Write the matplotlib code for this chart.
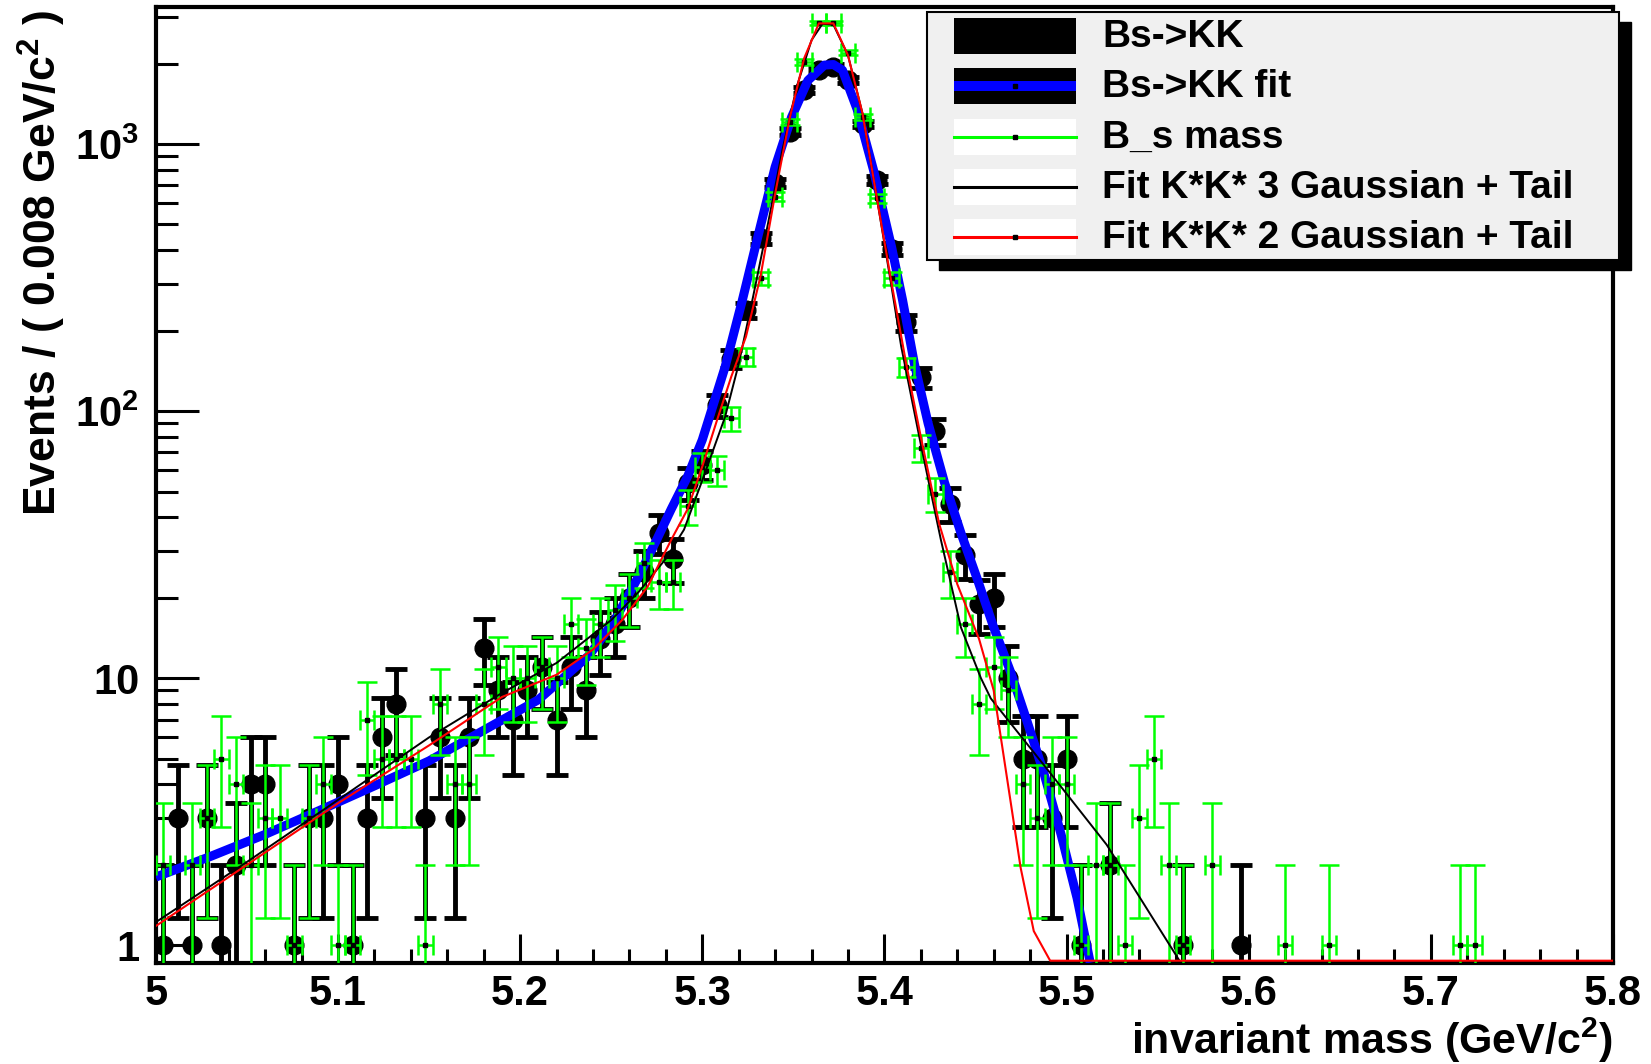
import numpy as np
import matplotlib
matplotlib.use("Agg")
import matplotlib.pyplot as plt
from matplotlib.patches import Rectangle

plt.rcParams['font.family'] = ['Liberation Sans', 'DejaVu Sans']
plt.rcParams['font.weight'] = 'bold'
plt.rcParams['mathtext.fontset'] = 'custom'
plt.rcParams['mathtext.rm'] = 'Liberation Sans:bold'
plt.rcParams['mathtext.it'] = 'Liberation Sans:bold:italic'
plt.rcParams['mathtext.bf'] = 'Liberation Sans:bold'

# 100 bins of 0.008 GeV/c^2 from 5.0 to 5.8
n_bins = 100
m_lo, m_hi = 5.0, 5.8
bin_w = (m_hi - m_lo) / n_bins

# Bs->KK events per bin (black)
kk_counts = [
    1, 3, 1, 3, 1, 2, 4, 4, 0, 1,
    3, 3, 4, 1, 3, 6, 8, 0, 3, 6,
    3, 6, 13, 9, 7, 9, 11, 7, 11, 9,
    14, 16, 20, 25, 35, 28, 54, 63, 105, 157,
    239, 443, 716, 1112, 1592, 1900, 1950, 1740, 1190, 733,
    405, 215, 134, 84, 45, 29, 19, 20, 10, 5,
    5, 3, 5, 1, 0, 2, 0, 0, 0, 0,
    1, 0, 0, 0, 1, 0, 0, 0, 0, 0,
    0, 0, 0, 0, 0, 0, 0, 0, 0, 0,
    0, 0, 0, 0, 0, 0, 0, 0, 0, 0,
]

# B_s mass events per bin (green)
bs_counts = [
    2, 0, 2, 3, 5, 4, 2, 3, 3, 1,
    3, 4, 1, 1, 7, 5, 5, 5, 1, 8,
    4, 4, 8, 11, 10, 10, 11, 10, 16, 13,
    16, 18, 20, 27, 23, 23, 44, 62, 60, 94,
    160, 314, 636, 1210, 2030, 2845, 2845, 2200, 1265, 627,
    314, 146, 73, 49, 25, 16, 8, 11, 9, 4,
    3, 4, 4, 1, 2, 2, 1, 3, 5, 2,
    1, 0, 2, 0, 0, 0, 0, 1, 0, 0,
    1, 0, 0, 0, 0, 0, 0, 0, 0, 1,
    1, 0, 0, 0, 0, 0, 0, 0, 0, 0,
]

# Bs->KK fit (thick blue)
kk_fit_x = [5.000, 5.030, 5.060, 5.090, 5.120, 5.150, 5.183, 5.210, 5.238, 5.252,
            5.265, 5.275, 5.283, 5.292, 5.300, 5.3125, 5.322, 5.331, 5.340, 5.349,
            5.358, 5.367, 5.372, 5.377, 5.385, 5.394, 5.404, 5.410, 5.4165, 5.424,
            5.433, 5.442, 5.451, 5.460, 5.4694, 5.478, 5.4876, 5.497, 5.5058, 5.513]
kk_fit_y = [1.80, 2.15, 2.60, 3.20, 3.95, 4.90, 6.55, 8.3, 12.2, 16.5,
            24.0, 33.0, 43.0, 57.0, 78.0, 146, 260, 464, 820, 1260,
            1730, 1975, 1985, 1890, 1350, 800, 410, 260, 150, 90,
            54, 35, 23.5, 15.5, 10.5, 7.0, 4.4, 2.6, 1.5, 0.86]

# Fit K*K* 3 Gaussian + Tail (thin black)
fit3_x = [5.000, 5.050, 5.100, 5.150, 5.190, 5.220, 5.250, 5.265, 5.280, 5.290,
          5.300, 5.3125, 5.320, 5.328, 5.336, 5.344, 5.352, 5.360, 5.366, 5.372,
          5.380, 5.388, 5.396, 5.404, 5.4092, 5.420, 5.431, 5.442, 5.453, 5.4584,
          5.4894, 5.522, 5.5620]
fit3_y = [1.22, 2.05, 3.5, 6.0, 8.8, 11.4, 16.5, 21, 28, 36,
          55, 95, 150, 270, 500, 950, 1650, 2450, 2820, 2800,
          2150, 1300, 620, 290, 175, 75, 33, 15.5, 10.0, 8.4,
          4.56, 2.38, 0.86]

# Fit K*K* 2 Gaussian + Tail (red)
fit2_x = [5.000, 5.050, 5.100, 5.150, 5.190, 5.220, 5.240, 5.256, 5.270, 5.283,
          5.292, 5.300, 5.308, 5.316, 5.324, 5.332, 5.340, 5.348, 5.356, 5.364,
          5.372, 5.380, 5.388, 5.396, 5.404, 5.412, 5.420, 5.430, 5.440, 5.452,
          5.460, 5.4748, 5.482, 5.491, 5.500, 5.800]
fit2_y = [1.18, 2.0, 3.4, 5.6, 8.5, 10.3, 12.8, 16.5, 22, 33,
          43, 62, 92, 135, 190, 320, 650, 1250, 2100, 2830,
          2830, 2150, 1300, 620, 300, 150, 80, 38, 22.5, 14.0,
          9.0, 1.95, 1.13, 0.86, 0.5, 0.5]

y_lo, y_hi = 0.858, 3260

W, H = 1651, 1064
fig = plt.figure(figsize=(W / 100, H / 100), dpi=100)
ax = fig.add_axes([155.8 / W, 1 - 963 / H, (1613 - 155.8) / W, (963 - 7) / H])

centers = m_lo + bin_w * (np.arange(n_bins) + 0.5)


def draw_hist(counts, color, lw, cap, marker, ms, mcolor, z, xbar):
    n = np.array(counts, dtype=float)
    keep = n > 0
    x = centers[keep]
    n = n[keep]
    err = np.sqrt(n)
    lo = n - np.maximum(n - err, 1e-3)
    ax.errorbar(x, n, yerr=[lo, err], xerr=(bin_w / 2 if xbar else None),
                fmt='none', ecolor=color, elinewidth=lw, capsize=cap,
                capthick=lw, zorder=z)
    ax.plot(x, n, linestyle='none', marker=marker, ms=ms, color=mcolor,
            mec=mcolor, zorder=z + 0.1)


draw_hist(kk_counts, 'black', 3.5, 8, 'o', 13.5, 'black', 2, False)
ax.plot(kk_fit_x, kk_fit_y, color='#0000ff', lw=6.5, zorder=3, solid_capstyle='butt')
draw_hist(bs_counts, '#00ff00', 1.8, 7, 's', 2.2, 'black', 4, True)

clip_lo = y_lo * 1.02
ax.plot(fit3_x, np.maximum(fit3_y, clip_lo), color='black', lw=1.4, zorder=5)
ax.plot(fit2_x, np.maximum(fit2_y, clip_lo), color='#ff0000', lw=1.5, zorder=6)

ax.set_yscale('log')
ax.set_xlim(m_lo, m_hi)
ax.set_ylim(y_lo, y_hi)

ax.set_xticks(np.round(np.arange(5.0, 5.81, 0.1), 1))
ax.set_xticklabels(['5', '5.1', '5.2', '5.3', '5.4', '5.5', '5.6', '5.7', '5.8'])
ax.set_xticks(np.arange(5.0, 5.801, 0.02), minor=True)
ax.set_yticks([1, 10, 100, 1000])
ax.set_yticklabels(['1', '10', r'$10^{2}$', r'$10^{3}$'])
ax.set_yticks([k * 10 ** d for d in range(0, 4) for k in range(2, 10)
               if k * 10 ** d < y_hi], minor=True)
ax.yaxis.set_minor_formatter(plt.NullFormatter())

ax.tick_params(axis='both', which='both', direction='in', top=False, right=False,
               width=2.2, color='black')
ax.tick_params(axis='y', which='major', length=31, pad=12, labelsize=30)
ax.tick_params(axis='y', which='minor', length=16)
ax.tick_params(axis='x', which='major', length=21, pad=8, labelsize=30)
ax.tick_params(axis='x', which='minor', length=10)
for s in ax.spines.values():
    s.set_linewidth(3)

fig.text(42 / W, 1 - 10 / H, 'Events / ( 0.008 GeV/c$^{2}$ )', rotation=90,
         ha='center', va='top', fontsize=32, fontweight='bold')
fig.text(1613 / W, 1 - 1054 / H, 'invariant mass (GeV/c$^{2}$)',
         ha='right', va='baseline', fontsize=31, fontweight='bold')

# ROOT style legend box with shadow, in pixel coordinates
lax = fig.add_axes([0, 0, 1, 1], zorder=10)
lax.set_xlim(0, W)
lax.set_ylim(H, 0)
lax.axis('off')

bx0, by0, bx1, by1 = 927, 12, 1619, 260
lax.add_patch(Rectangle((bx0 + 12, by0 + 10), bx1 - bx0, by1 - by0,
                        facecolor='black', edgecolor='black'))
lax.add_patch(Rectangle((bx0, by0), bx1 - bx0, by1 - by0, facecolor='#f0f0f0',
                        edgecolor='black', lw=1.5))

labels = ['Bs->KK', 'Bs->KK fit', 'B_s mass', 'Fit K*K* 3 Gaussian + Tail',
          'Fit K*K* 2 Gaussian + Tail']
row_y = [36, 86, 136.5, 186.5, 236.5]
sx0, sx1, sh = 954, 1076, 36
for i, (lab, yc) in enumerate(zip(labels, row_y)):
    fill = 'black' if i < 2 else 'white'
    lax.add_patch(Rectangle((sx0, yc - sh / 2), sx1 - sx0, sh, facecolor=fill,
                            edgecolor='none'))
    if i == 1:
        lax.add_patch(Rectangle((sx0, yc - 4.6), sx1 - sx0, 9.2,
                                facecolor='#0000ff', edgecolor='none'))
    elif i >= 2:
        col = ['#00ff00', 'black', '#ff0000'][i - 2]
        lax.plot([sx0, sx1], [yc, yc], color=col, lw=2.2)
    if i in (1, 2, 4):
        lax.plot([(sx0 + sx1) / 2], [yc], marker='s', ms=2.2, color='black')
    lax.text(1102, yc + 1, lab, ha='left', va='center', fontsize=28,
             fontweight='bold')

fig.savefig('out.png', dpi=100)
